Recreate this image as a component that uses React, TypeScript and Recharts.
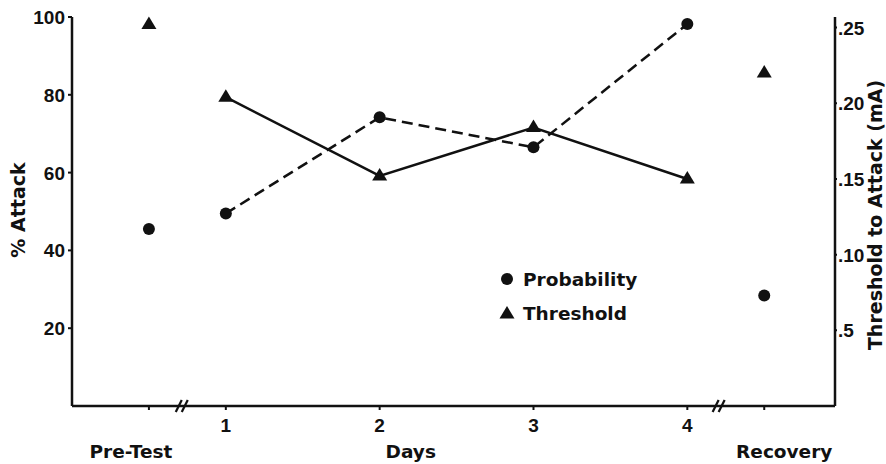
import React from "react";
import { ComposedChart, Line, XAxis, YAxis, ReferenceDot } from "recharts";

// ---- data ----
const positions = [0.5, 1, 2, 3, 4, 4.5];
const tickLabels = ["Pre-Test", "1", "2", "3", "4", "Recovery"];
const probability = [45.5, 49.5, 74.2, 66.5, 98.2, 28.4];
const threshold = [0.252, 0.204, 0.152, 0.184, 0.15, 0.22];
const connected = [false, true, true, true, true, false];
const leftTicks = [20, 40, 60, 80, 100];
const rightTicks = [0.05, 0.1, 0.15, 0.2, 0.25];
const rightTickLabels = [".5", ".10", ".15", ".20", ".25"];
const axisBreaks = [0.72, 4.21];
const xAxisTitle = "Days";
const leftTitle = "% Attack";
const rightTitle = "Threshold to Attack (mA)";
const seriesNames = ["Probability", "Threshold"];

const chartData = positions.map((x, i) => ({
  x,
  prob: probability[i],
  thr: threshold[i],
  probLine: connected[i] ? probability[i] : null,
  thrLine: connected[i] ? threshold[i] : null,
}));

const INK = "#111";
const TEXT_FONT = "'DejaVu Sans', sans-serif";
const NUM_FONT = "'Liberation Sans', Arial, sans-serif";

const circleDot = (p: any) => {
  if (p.cx == null || p.cy == null) return <g key={"c" + p.index} />;
  return <circle key={"c" + p.index} cx={p.cx} cy={p.cy} r={6} fill={INK} />;
};
const triPoints = (cx: number, cy: number) =>
  `${cx},${cy - 8} ${cx - 7.5},${cy + 4.5} ${cx + 7.5},${cy + 4.5}`;
const triDot = (p: any) => {
  if (p.cx == null || p.cy == null) return <g key={"t" + p.index} />;
  return <polygon key={"t" + p.index} points={triPoints(p.cx, p.cy)} fill={INK} />;
};

const XTick = (props: any) => {
  const { x, y, payload } = props;
  const i = positions.indexOf(payload.value);
  const label = tickLabels[i];
  if (i === 0 || i === positions.length - 1) {
    const dx = i === 0 ? -18 : 20;
    return (
      <text x={x + dx} y={y + 40} textAnchor="middle" fontFamily={TEXT_FONT} fontWeight="bold" fontSize={18.5} fill={INK}>
        {label}
      </text>
    );
  }
  return (
    <text x={x} y={y + 14} textAnchor="middle" fontFamily={NUM_FONT} fontWeight="bold" fontSize={19} fill={INK}>
      {label}
    </text>
  );
};

const LeftTick = (props: any) => {
  const { x, y, payload } = props;
  return (
    <text x={x} y={y + 7} textAnchor="end" fontFamily={NUM_FONT} fontWeight="bold" fontSize={19} fill={INK}>
      {payload.value}
    </text>
  );
};

const RightTick = (props: any) => {
  const { x, y, payload } = props;
  const i = rightTicks.findIndex((t) => Math.abs(t - payload.value) < 1e-6);
  return (
    <text x={x} y={y + 7} textAnchor="start" fontFamily={NUM_FONT} fontWeight="bold" fontSize={19} fill={INK}>
      {rightTickLabels[i]}
    </text>
  );
};

const BreakMark = (p: any) => {
  const { cx, cy } = p;
  if (cx == null) return <g />;
  return (
    <g stroke={INK} strokeWidth={2.2}>
      <line x1={cx - 7} y1={cy + 6} x2={cx - 1} y2={cy - 6} />
      <line x1={cx - 1} y1={cy + 6} x2={cx + 5} y2={cy - 6} />
    </g>
  );
};

const LegendOverlay = () => (
  <svg
    width={150}
    height={60}
    style={{ position: "absolute", left: 498, top: 266, overflow: "visible" }}
  >
    <circle cx={9} cy={13} r={6} fill={INK} />
    <text x={25} y={20} fontFamily={TEXT_FONT} fontWeight="bold" fontSize={18.5} fill={INK}>
      {seriesNames[0]}
    </text>
    <polygon points={triPoints(9, 48)} fill={INK} />
    <text x={25} y={54} fontFamily={TEXT_FONT} fontWeight="bold" fontSize={18.5} fill={INK}>
      {seriesNames[1]}
    </text>
  </svg>
);

export default function App() {
  return (
    <div style={{ position: "absolute", left: 0, top: 0, width: 886, height: 464, background: "#fff" }}>
      <ComposedChart
        width={886}
        height={464}
        data={chartData}
        margin={{ top: 17, right: 0, bottom: 0, left: 0 }}
      >
        <XAxis
          dataKey="x"
          type="number"
          domain={[0, 4.96]}
          ticks={positions}
          interval={0}
          height={58}
          tickSize={4}
          tickMargin={8}
          tick={XTick}
          stroke={INK}
          strokeWidth={2.5}
          tickLine={{ stroke: INK, strokeWidth: 2 }}
          label={(lp: any) => {
            const vb = lp.viewBox || {};
            return (
              <text
                x={vb.x + vb.width * 0.444}
                y={458}
                textAnchor="middle"
                fontFamily={TEXT_FONT}
                fontWeight="bold"
                fontSize={18.5}
                fill={INK}
              >
                {xAxisTitle}
              </text>
            );
          }}
        />
        <YAxis
          yAxisId="left"
          domain={[0, 100]}
          ticks={leftTicks}
          width={72}
          tickSize={4}
          tickMargin={3}
          tick={LeftTick}
          stroke={INK}
          strokeWidth={2.5}
          tickLine={{ stroke: INK, strokeWidth: 2 }}
          label={() => (
            <text
              transform="translate(25,210) rotate(-90)"
              textAnchor="middle"
              fontFamily={TEXT_FONT}
              fontWeight="bold"
              fontSize={19}
              fill={INK}
            >
              {leftTitle}
            </text>
          )}
        />
        <YAxis
          yAxisId="right"
          orientation="right"
          domain={[0, 0.257]}
          ticks={rightTicks}
          width={51}
          tickSize={2}
          tickMargin={1}
          tick={RightTick}
          stroke={INK}
          strokeWidth={2.5}
          tickLine={{ stroke: INK, strokeWidth: 2 }}
          label={() => (
            <text
              transform="translate(882,215) rotate(-90)"
              textAnchor="middle"
              fontFamily={TEXT_FONT}
              fontWeight="bold"
              fontSize={19}
              fill={INK}
            >
              {rightTitle}
            </text>
          )}
        />
        <Line
          yAxisId="left"
          dataKey="probLine"
          stroke={INK}
          strokeWidth={2.5}
          strokeDasharray="11 6"
          dot={false}
          activeDot={false}
          isAnimationActive={false}
          legendType="none"
        />
        <Line
          yAxisId="right"
          dataKey="thrLine"
          stroke={INK}
          strokeWidth={2.5}
          dot={false}
          activeDot={false}
          isAnimationActive={false}
          legendType="none"
        />
        <Line
          yAxisId="left"
          dataKey="prob"
          stroke="none"
          dot={circleDot}
          activeDot={false}
          isAnimationActive={false}
          name={seriesNames[0]}
        />
        <Line
          yAxisId="right"
          dataKey="thr"
          stroke="none"
          dot={triDot}
          activeDot={false}
          isAnimationActive={false}
          name={seriesNames[1]}
        />
        {axisBreaks.map((b) => (
          <ReferenceDot
            key={b}
            yAxisId="left"
            x={b}
            y={0}
            r={0}
            shape={BreakMark}
            ifOverflow="visible"
          />
        ))}
      </ComposedChart>
      <LegendOverlay />
    </div>
  );
}
